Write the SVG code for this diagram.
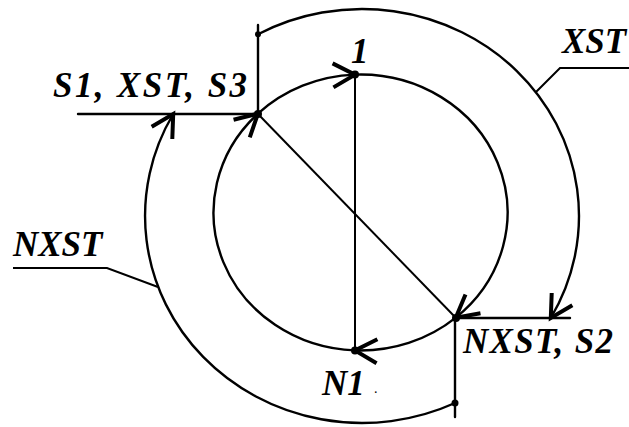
<svg xmlns="http://www.w3.org/2000/svg" width="629" height="427" viewBox="0 0 629 427">
  <style>
    .ln { fill: none; stroke: #000; stroke-width: 2.4; stroke-linecap: round; }
    .thin { fill: none; stroke: #000; stroke-width: 2; }
    .arr { fill: none; stroke: #000; stroke-width: 2.4; marker-end: url(#ah); }
    .dot { fill: #000; }
    .lbl { font-family: "Liberation Serif", "Times New Roman", serif; font-weight: bold; font-style: italic; font-size: 35px; fill: #000; }
  </style>
  <defs>
    <marker id="ah" markerUnits="userSpaceOnUse" orient="auto" refX="0" refY="0" markerWidth="40" markerHeight="40" viewBox="-30 -20 40 40" overflow="visible">
      <path d="M -22 -12 L 0 0 L -22 12" fill="none" stroke="#000" stroke-width="4" stroke-linejoin="miter" stroke-linecap="butt"/>
    </marker>
  </defs>
  <rect width="629" height="427" fill="#fff"/>

  <g id="connectors">
    <!-- inner circle arcs (clockwise) -->
    <path class="arr" d="M 257.9 113.7 A 147 138 0 0 1 355 74.6"/>
    <path class="arr" d="M 355 74.6 A 147 138 0 0 1 455.8 317.6"/>
    <path class="arr" d="M 455.8 317.6 A 147 138 0 0 1 355 350.4"/>
    <path class="arr" d="M 355 350.4 A 147 138 0 0 1 257.9 113.7"/>
    <!-- chords -->
    <line class="thin" x1="355" y1="74.6" x2="355" y2="350.4"/>
    <line class="thin" x1="258" y1="114" x2="456" y2="318"/>
    <!-- outer arcs -->
    <path class="arr" d="M 258 34.3 A 217 207 0 0 1 550.8 318"/>
    <path class="arr" d="M 455 403 A 217 207 0 0 1 173.2 114"/>
    <!-- input / output lines -->
    <line class="ln" x1="78" y1="114" x2="258" y2="114"/>
    <line class="ln" x1="258" y1="25" x2="258" y2="114"/>
    <line class="ln" x1="456" y1="318" x2="570" y2="318"/>
    <line class="ln" x1="455" y1="318" x2="455" y2="417"/>
    <!-- label leaders -->
    <polyline class="thin" points="629,68 560,68 536,92"/>
    <polyline class="thin" points="13,268 107,268 158,287"/>
  </g>

  <g id="node-S3">
    <circle class="dot" cx="258" cy="114" r="4"/>
    <text class="lbl" x="53" y="97" textLength="194" lengthAdjust="spacing">S1, XST,  S3</text>
  </g>
  <g id="node-top">
    <circle class="dot" cx="258" cy="34.3" r="3"/>
  </g>
  <g id="node-1">
    <circle class="dot" cx="355" cy="74.6" r="4"/>
    <text class="lbl" x="351" y="63">1</text>
  </g>
  <g id="node-NXST">
    <circle class="dot" cx="456" cy="318" r="4"/>
    <text class="lbl" x="463" y="353" textLength="150" lengthAdjust="spacing">NXST, S2</text>
  </g>
  <g id="node-bottom">
    <circle class="dot" cx="455" cy="403" r="3.5"/>
  </g>
  <g id="node-N1">
    <circle class="dot" cx="355" cy="350.4" r="4"/>
    <text class="lbl" x="322" y="395">N1</text>
    <text x="374" y="393" font-family="Liberation Serif, serif" font-size="14" fill="#000">.</text>
  </g>
  <g id="label-XST">
    <text class="lbl" x="562" y="53">XST</text>
  </g>
  <g id="label-NXST">
    <text class="lbl" x="13" y="256">NXST</text>
  </g>
</svg>
